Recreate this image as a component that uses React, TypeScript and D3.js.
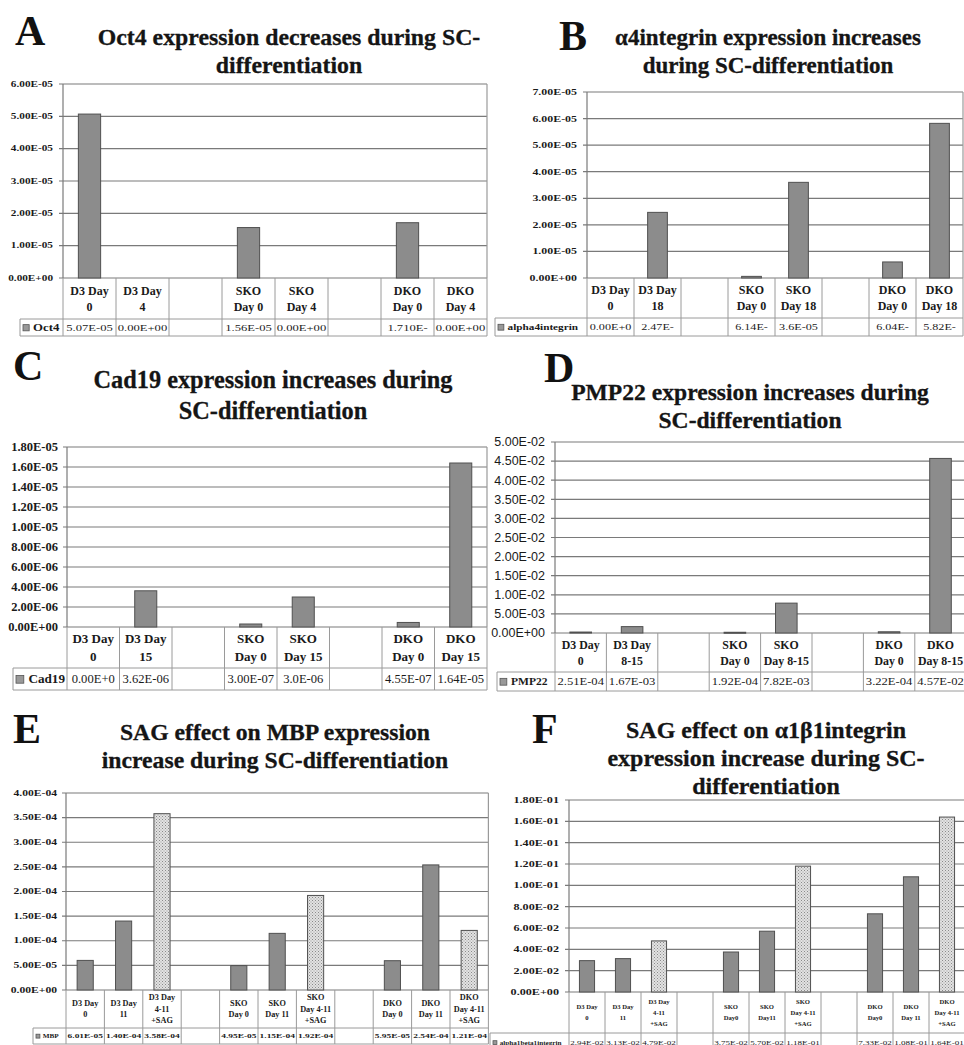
import React from "react";
import * as d3 from "d3";

const W = 964;
const H = 1045;
const serif = "Liberation Serif, Times New Roman, Tinos, DejaVu Serif, serif";
const sans = "Liberation Sans, Arial, sans-serif";

// ---- panel A: Oct4
const titleA = ["Oct4 expression decreases during SC-", "differentiation"];
const catsA = [["D3 Day", "0"], ["D3 Day", "4"], [], ["SKO", "Day 0"], ["SKO", "Day 4"], [], ["DKO", "Day 0"], ["DKO", "Day 4"]];
const valsA = [5.07e-5, 0, null, 1.56e-5, 0, null, 1.71e-5, 0];
const cellsA = ["5.07E-05", "0.00E+00", "", "1.56E-05", "0.00E+00", "", "1.710E-", "0.00E+00"];
const ticksA = [0, 1e-5, 2e-5, 3e-5, 4e-5, 5e-5, 6e-5];

// ---- panel B: alpha4 integrin
const titleB = ["α4integrin expression increases", "during SC-differentiation"];
const catsB = [["D3 Day", "0"], ["D3 Day", "18"], [], ["SKO", "Day 0"], ["SKO", "Day 18"], [], ["DKO", "Day 0"], ["DKO", "Day 18"]];
const valsB = [0, 2.47e-5, null, 6.14e-7, 3.6e-5, null, 6.04e-6, 5.82e-5];
const cellsB = ["0.00E+0", "2.47E-", "", "6.14E-", "3.6E-05", "", "6.04E-", "5.82E-"];
const ticksB = [0, 1e-5, 2e-5, 3e-5, 4e-5, 5e-5, 6e-5, 7e-5];

// ---- panel C: Cad19
const titleC = ["Cad19 expression increases during", "SC-differentiation"];
const catsC = [["D3 Day", "0"], ["D3 Day", "15"], [], ["SKO", "Day 0"], ["SKO", "Day 15"], [], ["DKO", "Day 0"], ["DKO", "Day 15"]];
const valsC = [0, 3.62e-6, null, 3.0e-7, 3.0e-6, null, 4.55e-7, 1.64e-5];
const cellsC = ["0.00E+0", "3.62E-06", "", "3.00E-07", "3.0E-06", "", "4.55E-07", "1.64E-05"];
const ticksC = [0, 2e-6, 4e-6, 6e-6, 8e-6, 1e-5, 1.2e-5, 1.4e-5, 1.6e-5, 1.8e-5];

// ---- panel D: PMP22
const titleD = ["PMP22 expression increases during", "SC-differentiation"];
const catsD = [["D3 Day", "0"], ["D3 Day", "8-15"], [], ["SKO", "Day 0"], ["SKO", "Day 8-15"], [], ["DKO", "Day 0"], ["DKO", "Day 8-15"]];
const valsD = [2.51e-4, 1.67e-3, null, 1.92e-4, 7.82e-3, null, 3.22e-4, 4.57e-2];
const cellsD = ["2.51E-04", "1.67E-03", "", "1.92E-04", "7.82E-03", "", "3.22E-04", "4.57E-02"];
const ticksD = [0, 0.005, 0.01, 0.015, 0.02, 0.025, 0.03, 0.035, 0.04, 0.045, 0.05];

// ---- panel E: MBP with SAG
const titleE = ["SAG effect on MBP expression", "increase during SC-differentiation"];
const catsE = [
  ["D3 Day", "0"], ["D3 Day", "11"], ["D3 Day", "4-11", "+SAG"], [],
  ["SKO", "Day 0"], ["SKO", "Day 11"], ["SKO", "Day 4-11", "+SAG"], [],
  ["DKO", "Day 0"], ["DKO", "Day 11"], ["DKO", "Day 4-11", "+SAG"],
];
const valsE = [6.01e-5, 1.4e-4, 3.58e-4, null, 4.95e-5, 1.15e-4, 1.92e-4, null, 5.95e-5, 2.54e-4, 1.21e-4];
const cellsE = ["6.01E-05", "1.40E-04", "3.58E-04", "", "4.95E-05", "1.15E-04", "1.92E-04", "", "5.95E-05", "2.54E-04", "1.21E-04"];
const ticksE = [0, 5e-5, 1e-4, 1.5e-4, 2e-4, 2.5e-4, 3e-4, 3.5e-4, 4e-4];

// ---- panel F: alpha1beta1 integrin with SAG
const titleF = ["SAG effect on α1β1integrin", "expression increase during SC-", "differentiation"];
const catsF = [
  ["D3 Day", "0"], ["D3 Day", "11"], ["D3 Day", "4-11", "+SAG"], [],
  ["SKO", "Day0"], ["SKO", "Day11"], ["SKO", "Day 4-11", "+SAG"], [],
  ["DKO", "Day0"], ["DKO", "Day 11"], ["DKO", "Day 4-11", "+SAG"],
];
const valsF = [2.94e-2, 3.13e-2, 4.79e-2, null, 3.75e-2, 5.7e-2, 1.18e-1, null, 7.33e-2, 1.08e-1, 1.64e-1];
const cellsF = ["2.94E-02", "3.13E-02", "4.79E-02", "", "3.75E-02", "5.70E-02", "1.18E-01", "", "7.33E-02", "1.08E-01", "1.64E-01"];
const ticksF = [0, 0.02, 0.04, 0.06, 0.08, 0.1, 0.12, 0.14, 0.16, 0.18];

type Font = { size: number; sx: number; weight: string; family: string };
const f = (size: number, sx: number, weight = "bold", family = serif): Font => ({ size, sx, weight, family });

const panels = [
  {
    letter: "A", lx: 15, ly: 45, title: titleA, tx: 289, ty: 45, tsize: 23.8, tlh: 28,
    cats: catsA, vals: valsA, cells: cellsA, ticks: ticksA, legend: "Oct4",
    x0: 63, bw: 53, yTop: 84, yBot: 278, tickEnd: 53, tickF: f(7.5, 1.5),
    hdrBot: 319, hdrF: f(12, 1), hdrLh: 16, rowBot: 336, rowF: f(9, 1.4, "normal"), legX: 20, legF: f(9.5, 1.35),
  },
  {
    letter: "B", lx: 559, ly: 50, title: titleB, tx: 768, ty: 45, tsize: 23, tlh: 28,
    cats: catsB, vals: valsB, cells: cellsB, ticks: ticksB, legend: "alpha4integrin",
    x0: 587, bw: 47, yTop: 92, yBot: 278, tickEnd: 577, tickF: f(8.5, 1.4),
    hdrBot: 318, hdrF: f(12, 1), hdrLh: 16, rowBot: 336, rowF: f(9, 1.35, "normal"), legX: 495, legF: f(9, 1.25),
  },
  {
    letter: "C", lx: 13, ly: 380, title: titleC, tx: 273, ty: 388, tsize: 24.3, tlh: 31,
    cats: catsC, vals: valsC, cells: cellsC, ticks: ticksC, legend: "Cad19",
    x0: 67, bw: 52.5, yTop: 447, yBot: 627, tickEnd: 58, tickF: f(12.5, 1),
    hdrBot: 668, hdrF: f(13, 1), hdrLh: 18, rowBot: 690, rowF: f(12, 1.05, "normal"), legX: 13, legF: f(12, 1.1),
  },
  {
    letter: "D", lx: 544, ly: 382, title: titleD, tx: 750, ty: 400, tsize: 23.6, tlh: 28,
    cats: catsD, vals: valsD, cells: cellsD, ticks: ticksD, legend: "PMP22",
    x0: 555, bw: 51.4, yTop: 442, yBot: 633, tickEnd: 545, tickF: f(12.5, 1, "normal", sans),
    hdrBot: 672, hdrF: f(12.5, 0.95), hdrLh: 16, rowBot: 691, rowF: f(10.5, 1.2, "normal"), legX: 497, legF: f(10.5, 1.1),
  },
  {
    letter: "E", lx: 13, ly: 743, title: titleE, tx: 275, ty: 740, tsize: 23.7, tlh: 28,
    cats: catsE, vals: valsE, cells: cellsE, ticks: ticksE, legend: "MBP",
    x0: 66, bw: 38.4, yTop: 793, yBot: 990, tickEnd: 57, tickF: f(7.5, 1.55),
    hdrBot: 1028, hdrF: f(7.5, 1.1), hdrLh: 11.5, rowBot: 1044, rowF: f(6.5, 1.45), legX: 33, legF: f(6, 1.2),
  },
  {
    letter: "F", lx: 532, ly: 743, title: titleF, tx: 766, ty: 738, tsize: 24, tlh: 28,
    cats: catsF, vals: valsF, cells: cellsF, ticks: ticksF, legend: "alpha1beta1integrin",
    x0: 569, bw: 36, yTop: 800, yBot: 992, tickEnd: 559, tickF: f(9, 1.35),
    hdrBot: 1033, hdrF: f(7, 0.95), hdrLh: 11, rowBot: 1052, rowF: f(6.5, 1.4, "normal"), legX: 490, legF: f(6, 1.2),
  },
];

const fmtE = (v: number) => {
  const [m, e] = v.toExponential(2).split("e");
  const n = Math.abs(+e);
  return `${m}E${+e < 0 ? "-" : "+"}${n < 10 ? "0" : ""}${n}`;
};

const grid = "#7a7a7a";
const rule = "#9a9a9a";

function T({ x, y, font, anchor = "middle", children }: any) {
  return (
    <text
      transform={`translate(${x},${y}) scale(${font.sx},1)`}
      textAnchor={anchor}
      style={{ fontFamily: font.family, fontWeight: font.weight, fontSize: font.size }}
      fill="#1a1a1a"
    >
      {children}
    </text>
  );
}

function Panel({ p }: { p: (typeof panels)[number] }) {
  const n = p.cats.length;
  const x = d3.scaleBand<number>().domain(d3.range(n)).range([p.x0, p.x0 + n * p.bw]);
  const x1 = p.x0 + n * p.bw;
  const y = d3.scaleLinear().domain([0, d3.max(p.ticks)!]).range([p.yBot, p.yTop]);
  const barW = x.bandwidth() * 0.42;
  const edges = d3.range(n + 1).map((i) => p.x0 + i * x.bandwidth());
  const hdrMid = (p.yBot + p.hdrBot) / 2;
  const rowMid = (p.hdrBot + p.rowBot) / 2;

  return (
    <g>
      <text x={p.lx} y={p.ly} style={{ fontFamily: serif, fontWeight: "bold", fontSize: 42 }} fill="#111">
        {p.letter}
      </text>
      {p.title.map((t, i) => (
        <text key={i} x={p.tx} y={p.ty + i * p.tlh} textAnchor="middle"
          style={{ fontFamily: serif, fontWeight: "bold", fontSize: p.tsize }}
          fill="#151515" stroke="#151515" strokeWidth={0.3}>
          {t}
        </text>
      ))}
      {p.ticks.map((t) => (
        <g key={t}>
          <line x1={p.x0 - 4} x2={x1} y1={y(t)} y2={y(t)} stroke={grid} strokeWidth={1.2} />
          <T x={p.tickEnd} y={y(t) + p.tickF.size * 0.35} font={p.tickF} anchor="end">
            {fmtE(t)}
          </T>
        </g>
      ))}
      <line x1={p.x0} x2={p.x0} y1={p.yTop} y2={p.yBot} stroke={grid} strokeWidth={1.2} />
      <line x1={x1} x2={x1} y1={p.yTop} y2={p.yBot} stroke={rule} strokeWidth={1.2} />
      {edges.map((e, i) => (
        <line key={i} x1={e} x2={e} y1={p.yBot} y2={p.rowBot} stroke={rule} strokeWidth={1} />
      ))}
      <line x1={p.legX} x2={x1} y1={p.hdrBot} y2={p.hdrBot} stroke={rule} strokeWidth={1} />
      <line x1={p.legX} x2={x1} y1={p.rowBot} y2={p.rowBot} stroke={rule} strokeWidth={1} />
      <line x1={p.legX} x2={p.legX} y1={p.hdrBot} y2={p.rowBot} stroke={rule} strokeWidth={1} />
      {p.vals.map((v, i) =>
        v === null || v <= 0 ? null : (
          <rect key={i}
            x={x(i)! + (x.bandwidth() - barW) / 2}
            y={y(v)}
            width={barW}
            height={Math.max(p.yBot - y(v), 1)}
            fill={p.cats[i].includes("+SAG") ? "url(#sag)" : "#8c8c8c"}
            stroke="#505050"
            strokeWidth={1}
          />
        )
      )}
      {p.cats.map((lines, i) =>
        lines.map((s, j) => (
          <T key={`${i}-${j}`} x={x(i)! + x.bandwidth() / 2}
            y={hdrMid - ((lines.length - 1) * p.hdrLh) / 2 + j * p.hdrLh + p.hdrF.size * 0.35}
            font={p.hdrF}>
            {s}
          </T>
        ))
      )}
      {p.cells.map((s, i) => (
        <T key={i} x={x(i)! + x.bandwidth() / 2} y={rowMid + p.rowF.size * 0.35} font={p.rowF}>
          {s}
        </T>
      ))}
      <rect x={p.legX + 3} y={rowMid - p.legF.size * 0.3} width={p.legF.size * 0.65}
        height={p.legF.size * 0.65} fill="#999" stroke="#555" strokeWidth={0.8} />
      <T x={p.legX + 4 + p.legF.size * 0.95} y={rowMid + p.legF.size * 0.35} font={p.legF} anchor="start">
        {p.legend}
      </T>
    </g>
  );
}

export default function App() {
  return (
    <svg width={W} height={H} style={{ position: "absolute", left: 0, top: 0, background: "#fff" }}>
      <defs>
        <pattern id="sag" width="3" height="3" patternUnits="userSpaceOnUse">
          <rect width="3" height="3" fill="#e2e2e2" />
          <rect width="1" height="1" fill="#8a8a8a" />
          <rect x="1.5" y="1.5" width="1" height="1" fill="#9a9a9a" />
        </pattern>
      </defs>
      <rect width={W} height={H} fill="#fff" />
      {panels.map((p) => (
        <Panel key={p.letter} p={p} />
      ))}
    </svg>
  );
}
